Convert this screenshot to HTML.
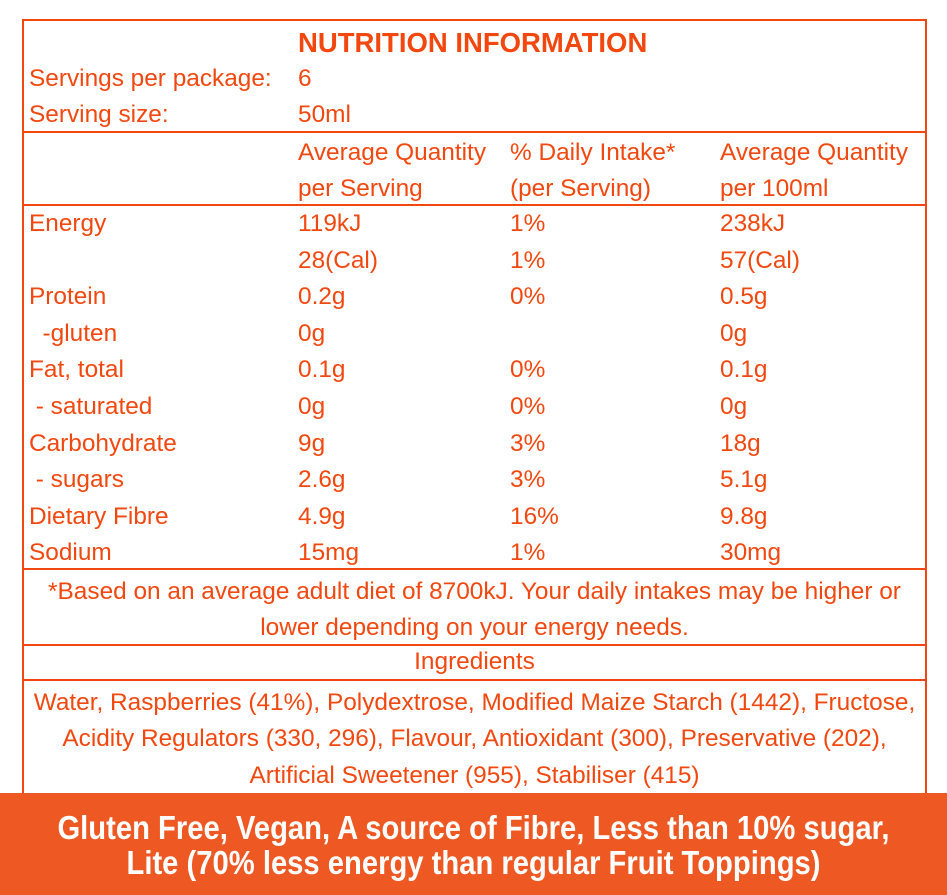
<!DOCTYPE html>
<html><head><meta charset="utf-8"><style>
body{margin:0;width:947px;height:895px;background:#fff;position:relative;overflow:hidden;font-family:"Liberation Sans",sans-serif;color:#f2480f}
.t{position:absolute;font-size:24.4px;line-height:28px;white-space:nowrap;transform:translateY(-50%)}
.c{left:23px;width:903px;text-align:center}
.ln{position:absolute;left:23px;width:903px;height:2px;background:#f2480f}
#frame{position:absolute;left:22px;top:19px;width:901px;height:790px;border:2px solid #f2480f}
#banner{position:absolute;left:0;top:793px;width:947px;height:102px;background:#ee5823}
.b{position:absolute;left:0;width:947px;text-align:center;color:#fff;font-weight:bold;font-size:33px;line-height:36px;transform:translateY(-50%) scaleX(0.885);white-space:nowrap}
</style></head><body>
<div id="frame"></div>
<div class="ln" style="top:131px"></div>
<div class="ln" style="top:204px"></div>
<div class="ln" style="top:568px"></div>
<div class="ln" style="top:644px"></div>
<div class="ln" style="top:679px"></div>

<div class="t" style="left:298px;top:43px;font-size:27.5px;font-weight:bold">NUTRITION INFORMATION</div>
<div class="t" style="left:29px;top:79px">Servings per package:</div>
<div class="t" style="left:298px;top:79px">6</div>
<div class="t" style="left:29px;top:115px">Serving size:</div>
<div class="t" style="left:298px;top:115px">50ml</div>

<div class="t" style="left:298px;top:153px">Average Quantity</div>
<div class="t" style="left:298px;top:189px">per Serving</div>
<div class="t" style="left:510px;top:153px">% Daily Intake*</div>
<div class="t" style="left:510px;top:189px">(per Serving)</div>
<div class="t" style="left:720px;top:153px">Average Quantity</div>
<div class="t" style="left:720px;top:189px">per 100ml</div>

<div id="rows"></div>

<div class="t c" style="top:592px">*Based on an average adult diet of 8700kJ. Your daily intakes may be higher or</div>
<div class="t c" style="top:628px">lower depending on your energy needs.</div>
<div class="t c" style="top:662px">Ingredients</div>
<div class="t c" style="top:703px">Water, Raspberries (41%), Polydextrose, Modified Maize Starch (1442), Fructose,</div>
<div class="t c" style="top:739px">Acidity Regulators (330, 296), Flavour, Antioxidant (300), Preservative (202),</div>
<div class="t c" style="top:776px">Artificial Sweetener (955), Stabiliser (415)</div>

<div id="banner"></div>
<div class="b" style="top:828px">Gluten Free, Vegan, A source of Fibre, Less than 10% sugar,</div>
<div class="b" style="top:863px">Lite (70% less energy than regular Fruit Toppings)</div>

<script>
const nutrients=["Energy","","Protein","  -gluten","Fat, total"," - saturated","Carbohydrate"," - sugars","Dietary Fibre","Sodium"];
const perServing=["119kJ","28(Cal)","0.2g","0g","0.1g","0g","9g","2.6g","4.9g","15mg"];
const dailyIntake=["1%","1%","0%","","0%","0%","3%","3%","16%","1%"];
const per100ml=["238kJ","57(Cal)","0.5g","0g","0.1g","0g","18g","5.1g","9.8g","30mg"];
const rows=document.getElementById('rows');
function add(txt,x,y){
  const d=document.createElement('div');
  d.className='t';d.style.left=x+'px';d.style.top=y+'px';
  d.style.whiteSpace='pre';d.textContent=txt;
  
  
  rows.appendChild(d);
}
nutrients.forEach((n,i)=>{
  const y=224+i*36.6;
  add(n,29,y);add(perServing[i],298,y);add(dailyIntake[i],510,y);add(per100ml[i],720,y);
});
</script>
</body></html>
